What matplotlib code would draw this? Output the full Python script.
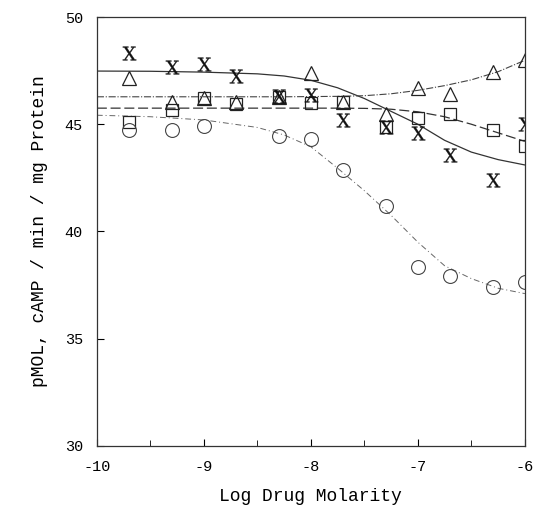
import matplotlib
matplotlib.use("Agg")
import matplotlib.pyplot as plt
from matplotlib.ticker import MultipleLocator

plt.rcParams['font.family'] = ['Liberation Mono', 'DejaVu Sans Mono']
plt.rcParams['mathtext.fontset'] = 'dejavuserif'

# measured points (log molar)
dose = [-9.7, -9.3, -9.0, -8.7, -8.3, -8.0, -7.7, -7.3, -7.0, -6.7, -6.3, -6.0]
tri_vals = [47.14, 46.04, 46.2, 46.04, 46.28, 47.37, 46.04, 45.5, 46.67, 46.43, 47.44, 47.99]
sq_vals = [45.1, 45.65, 46.2, 45.95, 46.28, 45.97, 46.04, 44.87, 45.27, 45.47, 44.72, 44.0]
x_vals = [48.3, 47.68, 47.8, 47.24, 46.3, 46.36, 45.2, 44.87, 44.57, 43.55, 42.38, 45.03]
circ_dose = [-9.7, -9.3, -9.0, -8.3, -8.0, -7.7, -7.3, -7.0, -6.7, -6.3, -6.0]
circ_vals = [44.75, 44.75, 44.9, 44.45, 44.33, 42.88, 41.2, 38.36, 37.9, 37.4, 37.63]

# fitted curves
curve_x = [-10.0, -9.5, -9.0, -8.5, -8.25, -8.0, -7.75, -7.5, -7.25, -7.0, -6.75, -6.5, -6.25, -6.0]
tri_curve = [46.28, 46.28, 46.28, 46.28, 46.28, 46.29, 46.3, 46.33, 46.42, 46.58, 46.8, 47.07, 47.45, 47.98]
x_curve = [47.48, 47.47, 47.43, 47.35, 47.25, 47.05, 46.7, 46.2, 45.6, 45.0, 44.25, 43.7, 43.35, 43.1]
sq_curve = [45.75, 45.75, 45.75, 45.75, 45.75, 45.75, 45.75, 45.74, 45.7, 45.58, 45.35, 45.0, 44.6, 44.2]
circ_curve = [45.42, 45.35, 45.2, 44.85, 44.5, 43.95, 42.95, 41.9, 40.75, 39.5, 38.4, 37.8, 37.35, 37.1]

xticks = [-10, -9, -8, -7, -6]
xticklabels = ['-10', '-9', '-8', '-7', '-6']
yticks = [30, 35, 40, 45, 50]

fig = plt.figure(figsize=(5.35, 5.16), dpi=100)
ax = fig.add_axes([0.181, 0.136, 0.800, 0.831])

ax.plot(curve_x, x_curve, '-', color='#333333', lw=0.9)
ax.plot(curve_x, tri_curve, '-.', color='#444444', lw=0.8)
ax.plot(curve_x, sq_curve, '--', color='#333333', lw=0.9, dashes=(8, 3))
ax.plot(curve_x, circ_curve, '-.', color='#666666', lw=0.7, dashes=(6, 3, 1, 3))

ax.plot(dose, tri_vals, '^', ms=10, mfc='none', mec='#222222', mew=0.9, ls='none')
ax.plot(dose, sq_vals, 's', ms=8.5, mfc='none', mec='#222222', mew=0.9, ls='none')
ax.plot(circ_dose, circ_vals, 'o', ms=10, mfc='none', mec='#444444', mew=0.8, ls='none')
ax.plot(dose, x_vals, marker=r'$\mathrm{X}$', ms=10, color='#111111', mew=0.2, ls='none')

ax.set_xlim(-10, -6)
ax.set_ylim(30, 50)
ax.set_xticks(xticks)
ax.set_xticklabels(xticklabels)
ax.set_yticks(yticks)
ax.xaxis.set_minor_locator(MultipleLocator(0.5))
ax.tick_params(direction='in', length=5, width=0.8, labelsize=11, pad=10)
ax.tick_params(which='minor', direction='in', length=4, width=0.6)
for s in ax.spines.values():
    s.set_linewidth(0.9)
    s.set_color('#333333')

ax.set_xlabel('Log Drug Molarity', fontsize=13, labelpad=10)
ax.set_ylabel('pMOL, cAMP / min / mg Protein', fontsize=13, labelpad=12)

fig.savefig('out.png', dpi=100)
